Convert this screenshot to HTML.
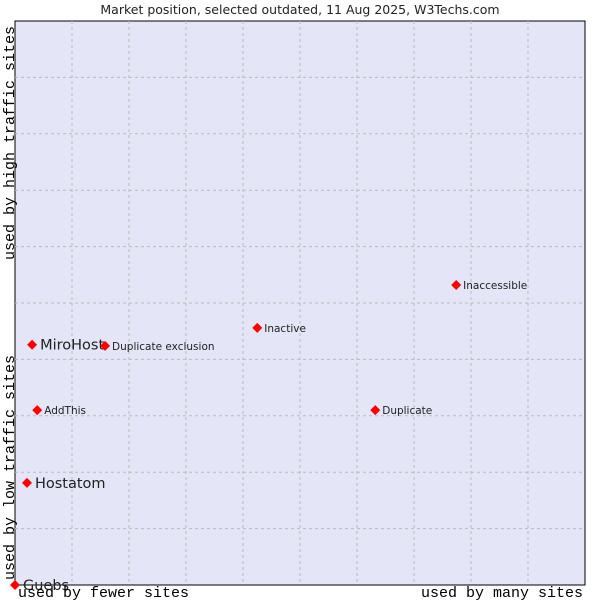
<!DOCTYPE html>
<html><head><meta charset="utf-8"><style>
body{margin:0;background:#fff;width:600px;height:600px;overflow:hidden}
svg{display:block}
</style></head><body>
<svg width="600" height="600" xmlns="http://www.w3.org/2000/svg">
<text x="300" y="14" text-anchor="middle" font-family="DejaVu Sans, sans-serif" font-size="12.5" fill="#222">Market position, selected outdated, 11 Aug 2025, W3Techs.com</text>
<rect x="15" y="21" width="570" height="564" fill="#e4e5f7" stroke="#000" stroke-width="1"/>
<g id="grid"></g>
<g id="pts"></g>
<text x="18" y="597" font-family="Liberation Mono, monospace" font-size="15" fill="#000">used by fewer sites</text>
<text x="583" y="597" text-anchor="end" font-family="Liberation Mono, monospace" font-size="15" fill="#000">used by many sites</text>
<text transform="translate(14,580) rotate(-90)" font-family="Liberation Mono, monospace" font-size="15" fill="#000">used by low traffic sites</text>
<text transform="translate(14,260) rotate(-90)" font-family="Liberation Mono, monospace" font-size="15" fill="#000">used by high traffic sites</text>
</svg>
<script>
const names=["Guebs","Hostatom","AddThis","MiroHost","Duplicate exclusion","Inactive","Duplicate","Inaccessible"];
const xVals=[0,2.1,3.9,3.0,15.8,42.5,63.2,77.4];
const yVals=[0,18.1,31.0,42.6,42.4,45.6,31.0,53.2];
const big=[true,true,false,true,false,false,false,false];
const X=v=>15+v*5.7, Y=v=>585-v*5.64;
const NS="http://www.w3.org/2000/svg";
const g=document.getElementById('grid');
for(let i=1;i<10;i++){
 let l=document.createElementNS(NS,'line');
 l.setAttribute('x1',X(i*10));l.setAttribute('x2',X(i*10));l.setAttribute('y1',21);l.setAttribute('y2',585);
 l.setAttribute('stroke','#bbb');l.setAttribute('stroke-dasharray','3,3');
 
 
 g.appendChild(l);
 let m=document.createElementNS(NS,'line');
 m.setAttribute('y1',Y(i*10));m.setAttribute('y2',Y(i*10));m.setAttribute('x1',15);m.setAttribute('x2',585);
 m.setAttribute('stroke','#bbb');m.setAttribute('stroke-dasharray','3,3');
 
 
 g.appendChild(m);
}
const p=document.getElementById('pts');
names.forEach((n,i)=>{
 const x=X(xVals[i]),y=Y(yVals[i]);
 let d=document.createElementNS(NS,'path');
 d.setAttribute('d',`M${x-5},${y} L${x},${y-5} L${x+5},${y} L${x},${y+5}Z`);
 d.setAttribute('fill','#f00');
 
 
 p.appendChild(d);
 let t=document.createElementNS(NS,'text');
 t.setAttribute('x',x+(big[i]?8:7));t.setAttribute('y',y+(big[i]?5:4));
 t.setAttribute('font-family','DejaVu Sans, sans-serif');
 t.setAttribute('font-size',big[i]?14.5:10.5);
 t.setAttribute('fill','#222');
 t.textContent=n;
 
 
 p.appendChild(t);
});
</script>
</body></html>
